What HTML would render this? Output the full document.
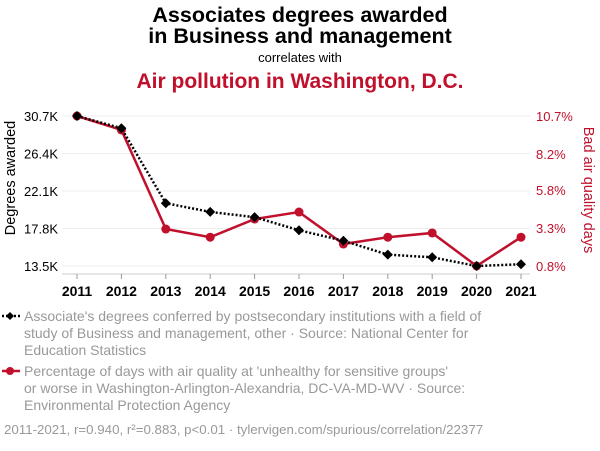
<!DOCTYPE html>
<html><head><meta charset="utf-8"><style>
body{margin:0;background:#fff;width:600px;height:446px;overflow:hidden;font-family:"Liberation Sans",sans-serif}
</style></head><body>
<svg id="c" width="600" height="446" xmlns="http://www.w3.org/2000/svg" font-family="Liberation Sans, sans-serif">
<text x="300" y="22" text-anchor="middle" font-size="21.5" font-weight="bold" fill="#000">Associates degrees awarded</text>
<text x="300" y="43" text-anchor="middle" font-size="21.5" font-weight="bold" fill="#000">in Business and management</text>
<text x="300" y="62" text-anchor="middle" font-size="13" fill="#000">correlates with</text>
<text x="300" y="88" text-anchor="middle" font-size="21" font-weight="bold" fill="#c0102c">Air pollution in Washington, D.C.</text>
<text transform="translate(15,178) rotate(-90)" text-anchor="middle" font-size="14.5" fill="#000">Degrees awarded</text>
<text transform="translate(584,190) rotate(90)" text-anchor="middle" font-size="14.5" fill="#c0102c">Bad air quality days</text>
<g id="grid"></g><g id="axes"></g><g id="marks"></g>
<g>
<line x1="2" y1="316" x2="20" y2="316" stroke="#000" stroke-width="2.5" stroke-dasharray="2,2"/>
<path d="M6 316 L10 312 L14 316 L10 320Z" fill="#000"/>
<text font-size="14" fill="#999"><tspan x="24" y="321">Associate's degrees conferred by postsecondary institutions with a field of</tspan><tspan x="24" y="338">study of Business and management, other · Source: National Center for</tspan><tspan x="24" y="355">Education Statistics</tspan></text>
</g>
<g>
<line x1="2" y1="371" x2="20" y2="371" stroke="#c0102c" stroke-width="2.5"/>
<circle cx="10" cy="371" r="4" fill="#c0102c"/>
<text font-size="14" fill="#999"><tspan x="24" y="376">Percentage of days with air quality at 'unhealthy for sensitive groups'</tspan><tspan x="24" y="393">or worse in Washington-Arlington-Alexandria, DC-VA-MD-WV · Source:</tspan><tspan x="24" y="410">Environmental Protection Agency</tspan></text>
</g>
<text x="4" y="434" font-size="13.3" fill="#999">2011-2021, r=0.940, r²=0.883, p&lt;0.01 · tylervigen.com/spurious/correlation/22377</text>
</svg>
<script>
const years=[2011,2012,2013,2014,2015,2016,2017,2018,2019,2020,2021];
const degrees=[30.7,29.3,20.7,19.7,19.1,17.6,16.4,14.8,14.5,13.5,13.7];
const airPct=[10.7,9.78,3.24,2.7,3.9,4.36,2.25,2.7,2.98,0.8,2.7];
const leftTicks=[13.5,17.8,22.1,26.4,30.7];
const leftTickLabels=["13.5K","17.8K","22.1K","26.4K","30.7K"];
const rightTicks=[0.8,3.3,5.8,8.2,10.7];
const rightTickLabels=["0.8%","3.3%","5.8%","8.2%","10.7%"];
const NS="http://www.w3.org/2000/svg";
const x=y=>77+(y-2011)*44.4;
const yL=v=>266-(v-13.5)/(30.7-13.5)*150;
const yR=v=>266-(v-0.8)/(10.7-0.8)*150;
function mk(t,a,p){const e=document.createElementNS(NS,t);for(const k in a)e.setAttribute(k,a[k]);p.appendChild(e);return e;}
const grid=document.getElementById('grid'),axes=document.getElementById('axes'),marks=document.getElementById('marks');
leftTicks.forEach((v,i)=>{
 const g=mk('line',{x1:62,x2:530,y1:yL(v),y2:yL(v),stroke:'#eee','stroke-width':1},grid);
 
 
 const t=mk('text',{x:58,y:yL(v)+5,'text-anchor':'end','font-size':13,fill:'#000'},axes);t.textContent=leftTickLabels[i];
 
 
});
rightTicks.forEach((v,i)=>{
 const t=mk('text',{x:536,y:yR(v)+5,'font-size':13,fill:'#c0102c'},axes);t.textContent=rightTickLabels[i];
 
 
});
const ax=mk('line',{x1:62,x2:530,y1:274,y2:274,stroke:'#ccc'},axes);


years.forEach(y=>{
 mk('line',{x1:x(y),x2:x(y),y1:274,y2:279,stroke:'#999'},axes);
 const t=mk('text',{x:x(y),y:296,'text-anchor':'middle','font-size':14,'font-weight':'bold',fill:'#000'},axes);t.textContent=y;
 
 
});
const rl=mk('polyline',{points:years.map((y,i)=>x(y)+','+yR(airPct[i])).join(' '),fill:'none',stroke:'#c0102c','stroke-width':2.5},marks);


years.forEach((y,i)=>{const c=mk('circle',{cx:x(y),cy:yR(airPct[i]),r:4.5,fill:'#c0102c'},marks);
 
 });
const bl=mk('polyline',{points:years.map((y,i)=>x(y)+','+yL(degrees[i])).join(' '),fill:'none',stroke:'#000','stroke-width':2.5,'stroke-dasharray':'2,2'},marks);


years.forEach((y,i)=>{const cx=x(y),cy=yL(degrees[i]);
 const d=mk('path',{d:`M${cx-5} ${cy} L${cx} ${cy-5} L${cx+5} ${cy} L${cx} ${cy+5}Z`,fill:'#000'},marks);
 
 });
</script>
</body></html>
